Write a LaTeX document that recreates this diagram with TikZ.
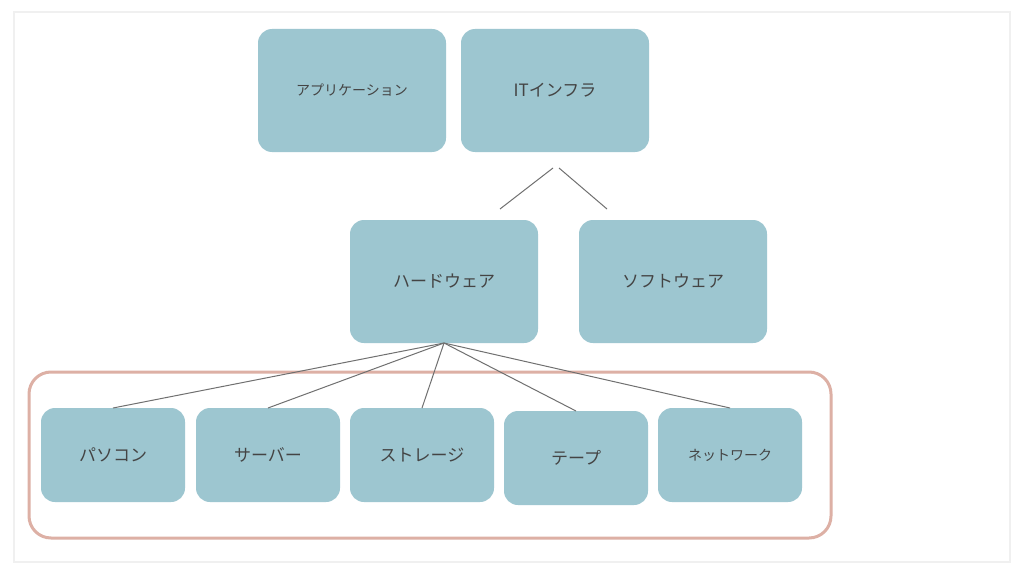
\documentclass[tikz,border=0pt]{standalone}
\usepackage{fontspec}
\setmainfont{Noto Sans CJK JP}
\begin{document}
\begin{tikzpicture}[x=1pt,y=-1pt,
  box/.style={fill=boxc,draw=none,rounded corners=14pt,text=txt,font=\fontsize{17}{20}\selectfont},
  small/.style={font=\fontsize{14}{17}\selectfont},
  ln/.style={draw=lnc,line width=1pt}]
\definecolor{boxc}{HTML}{9DC6D0}
\definecolor{txt}{HTML}{444444}
\definecolor{lnc}{HTML}{707070}
\definecolor{frm}{HTML}{DDB0A5}
\useasboundingbox (0,0) rectangle (1024,575);
\fill[white] (0,0) rectangle (1024,575);
\fill[black!6] (13,11) rectangle (1011,563);
\fill[white] (15,13) rectangle (1009,561);
\path[box] (258,29) rectangle (446,152) node[midway,small] (app) {アプリケーション};
\path[box] (461,29) rectangle (649,152) node[midway] (it) {ITインフラ};
\path[box] (350,220) rectangle (538,343) node[midway] (hw) {ハードウェア};
\path[box] (579,220) rectangle (767,343) node[midway] (sw) {ソフトウェア};
\draw[frm,line width=3pt,rounded corners=22pt] (29,372) rectangle (831,538);
\path[box] (41,408) rectangle (185,502) node[midway] (pc) {パソコン};
\path[box] (196,408) rectangle (340,502) node[midway] (sv) {サーバー};
\path[box] (350,408) rectangle (494,502) node[midway] (st) {ストレージ};
\path[box] (504,411) rectangle (648,505) node[midway] (tp) {テープ};
\path[box] (658,408) rectangle (802,502) node[midway,small] (nw) {ネットワーク};
\coordinate (a1) at (553,168); \coordinate (a2) at (500,209);
\coordinate (b1) at (559,168); \coordinate (b2) at (607,209);
\draw[ln] (a1) -- (a2); \draw[ln] (b1) -- (b2);
\coordinate (h) at (444,343);
\coordinate (t1) at (113,408); \coordinate (t2) at (268,408);
\coordinate (t3) at (422,408); \coordinate (t4) at (576,411);
\coordinate (t5) at (730,408);
\foreach \t in {t1,t2,t3,t4,t5} \draw[ln] (h) -- (\t);
\end{tikzpicture}
\end{document}
